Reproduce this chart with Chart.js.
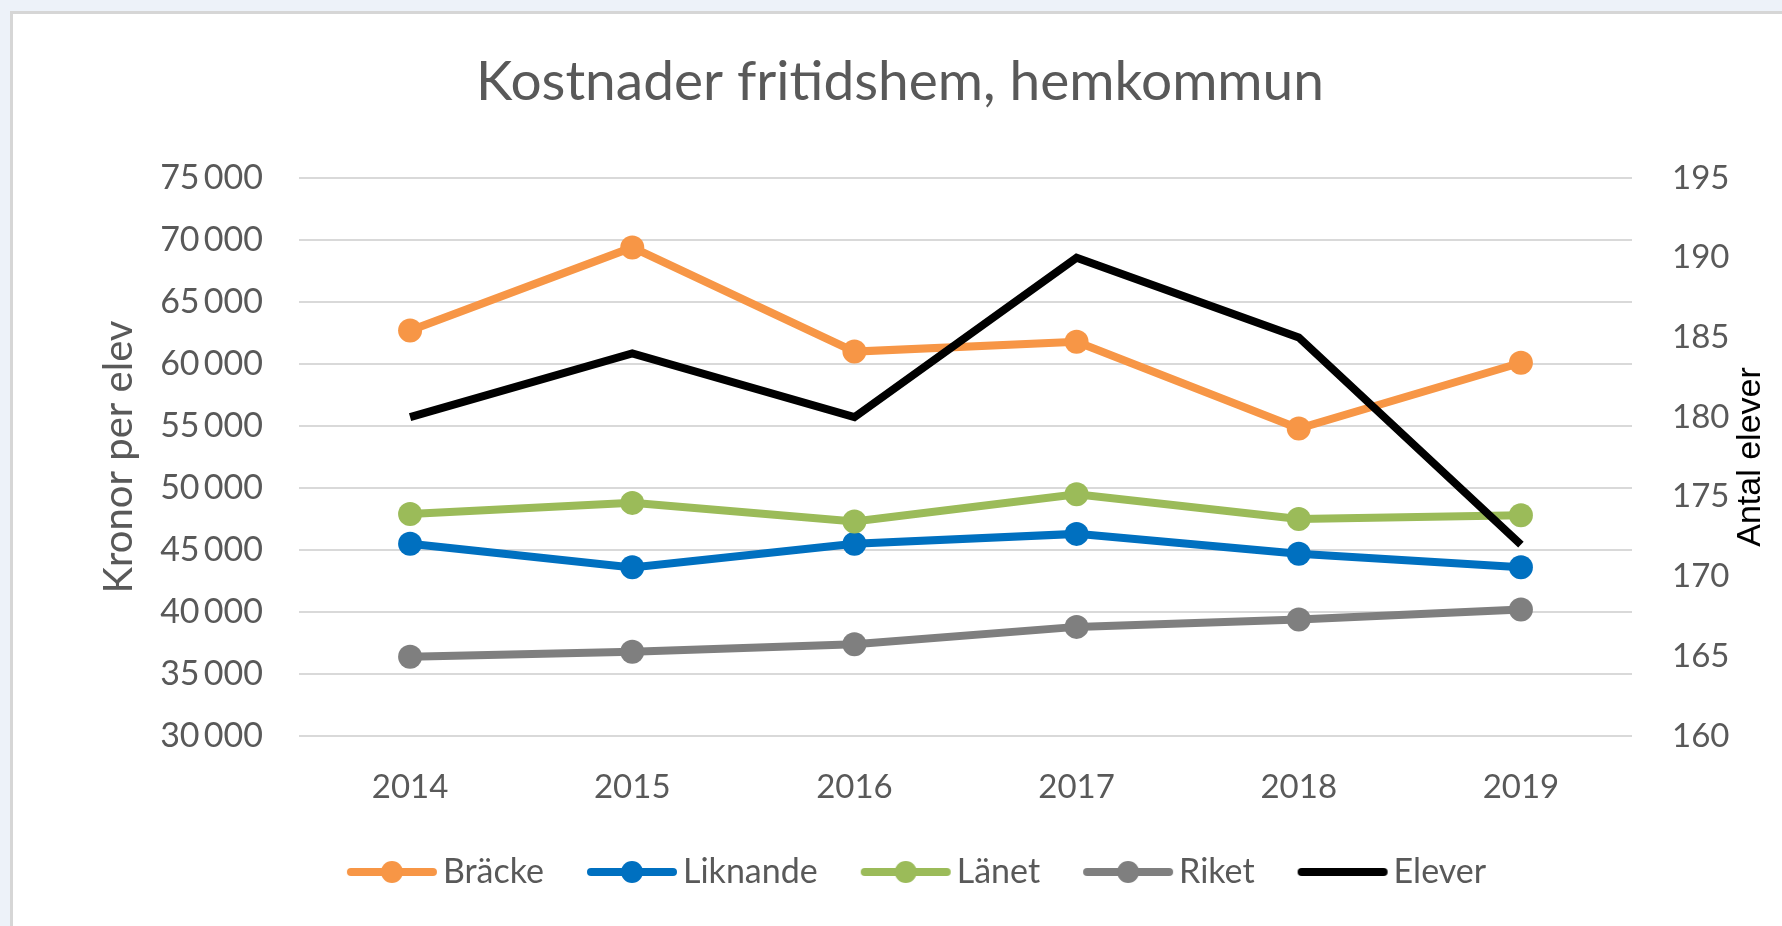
<!DOCTYPE html>
<html lang="sv">
<head>
<meta charset="utf-8">
<title>Kostnader fritidshem, hemkommun</title>
<script src="https://cdn.jsdelivr.net/npm/chart.js@4.4.1/dist/chart.umd.min.js"></script>
<style>
  html, body { margin: 0; padding: 0; }
  body { width: 1782px; height: 926px; background: #edf2f9; position: relative; overflow: hidden; }
  #panel {
    position: absolute; left: 10px; top: 11px; right: 0; bottom: 0;
    background: #fff; border-left: 3px solid #d6d6d6; border-top: 3px solid #d6d6d6;
  }
  #chart { position: absolute; left: 0; top: 0; }
</style>
</head>
<body>
<div id="panel"></div>
<canvas id="chart" width="1782" height="926"></canvas>
<script>
// --- data ---
const years = ['2014', '2015', '2016', '2017', '2018', '2019'];
const bracke   = [62700, 69400, 61000, 61800, 54800, 60100];
const liknande = [45500, 43600, 45500, 46300, 44700, 43600];
const lanet    = [47900, 48800, 47300, 49500, 47500, 47800];
const riket    = [36400, 36800, 37400, 38800, 39400, 40200];
const elever   = [180, 184, 180, 190, 185, 172];

const seriesNames = ['Bräcke', 'Liknande', 'Länet', 'Riket', 'Elever'];
const seriesColors = ['#f79646', '#0070c0', '#9bbb59', '#7f7f7f', '#000000'];

const textGray = '#595959';
const fontFamily = 'Lato, "Open Sans", sans-serif';

// swedish thousands separator
function fmt(v) {
    return String(v).replace(/\B(?=(\d{3})+(?!\d))/g, '\u2009');
}

// legend symbol: line with a dot in the middle (like Excel).
// the canvas is wider than the legend box, the line sits at its right end
const LEG_BOX = 112, LEG_OVER = 12, LEG_LINE = 90;
function legendSymbol(color, withDot) {
    const c = document.createElement('canvas');
    c.width = LEG_BOX + 2 * LEG_OVER; c.height = 28;
    const g = c.getContext('2d');
    const x1 = c.width - 5, x0 = x1 - LEG_LINE + 8;
    g.strokeStyle = color;
    g.lineWidth = 8;
    g.lineCap = 'round';
    g.beginPath();
    g.moveTo(x0, 14); g.lineTo(x1, 14);
    g.stroke();
    if (withDot) {
        g.fillStyle = color;
        g.beginPath();
        g.arc((x0 + x1) / 2, 14, 11, 0, Math.PI * 2);
        g.fill();
    }
    return c;
}

function lineSet(i, data, order) {
    return {
        label: seriesNames[i],
        data: data,
        yAxisID: 'y',
        borderColor: seriesColors[i],
        backgroundColor: seriesColors[i],
        borderWidth: 8,
        pointRadius: 12,
        pointHoverRadius: 12,
        pointBorderWidth: 0,
        pointBackgroundColor: seriesColors[i],
        tension: 0,
        order: order
    };
}

// right axis title reads bottom-to-top, so it is drawn here
const rightTitle = {
    id: 'rightTitle',
    afterDraw(chart) {
        const s = chart.scales.y1;
        const ctx = chart.ctx;
        ctx.save();
        ctx.translate(s.right - 31, (s.top + s.bottom) / 2);
        ctx.rotate(-Math.PI / 2);
        ctx.font = '34px "Liberation Sans", Arial, sans-serif';
        ctx.fillStyle = '#000';
        ctx.textAlign = 'center';
        ctx.textBaseline = 'middle';
        ctx.fillText('Antal elever', 0, 0);
        ctx.restore();
    }
};

new Chart(document.getElementById('chart'), {
    type: 'line',
    data: {
        labels: years,
        datasets: [
            lineSet(0, bracke, 5),
            lineSet(1, liknande, 4),
            lineSet(2, lanet, 3),
            lineSet(3, riket, 2),
            {
                label: seriesNames[4],
                data: elever,
                yAxisID: 'y1',
                borderColor: seriesColors[4],
                backgroundColor: seriesColors[4],
                borderWidth: 8,
                pointRadius: 0,
                pointHoverRadius: 0,
                tension: 0,
                order: 1
            }
        ]
    },
    options: {
        responsive: false,
        animation: false,
        devicePixelRatio: 1,
        layout: { padding: { left: 18, right: 0, top: 0, bottom: 27 } },
        plugins: {
            tooltip: { enabled: false },
            title: {
                display: true,
                text: 'Kostnader fritidshem, hemkommun',
                color: textGray,
                font: { family: fontFamily, size: 55, weight: 'normal' },
                padding: { top: 49, bottom: 63 }
            },
            legend: {
                position: 'bottom',
                labels: {
                    color: textGray,
                    font: { family: fontFamily, size: 34 },
                    usePointStyle: true,
                    pointStyleWidth: LEG_BOX,
                    padding: 10,
                    generateLabels(chart) {
                        return chart.data.datasets.map((ds, i) => ({
                            text: ds.label,
                            fontColor: textGray,
                            pointStyle: legendSymbol(ds.borderColor, i < 4),
                            strokeStyle: ds.borderColor,
                            fillStyle: ds.borderColor,
                            lineWidth: 0,
                            hidden: false,
                            datasetIndex: i
                        }));
                    }
                }
            }
        },
        scales: {
            x: {
                offset: true,
                grid: { display: false, drawTicks: false },
                border: { display: false },
                ticks: {
                    color: textGray,
                    font: { family: fontFamily, size: 33 },
                    padding: 32,
                    maxRotation: 0
                },
                afterFit(scale) { scale.height = 109; }
            },
            y: {
                position: 'left',
                min: 30000,
                max: 75000,
                grid: { color: '#d9d9d9', lineWidth: 2, drawTicks: false },
                border: { display: false },
                ticks: {
                    stepSize: 5000,
                    color: textGray,
                    font: { family: fontFamily, size: 34 },
                    padding: 36,
                    callback: v => fmt(v)
                },
                title: {
                    display: true,
                    text: 'Kronor per elev',
                    color: textGray,
                    font: { family: fontFamily, size: 40 },
                    padding: { top: 77, bottom: 0 }
                },
                afterFit(scale) { scale.width = 281; }
            },
            y1: {
                position: 'right',
                min: 160,
                max: 195,
                grid: { display: false, drawTicks: false },
                border: { display: false },
                ticks: {
                    stepSize: 5,
                    color: textGray,
                    font: { family: fontFamily, size: 33 },
                    padding: 40
                },
                afterFit(scale) { scale.width = 150; }
            }
        }
    },
    plugins: [rightTitle]
});
</script>
</body>
</html>
